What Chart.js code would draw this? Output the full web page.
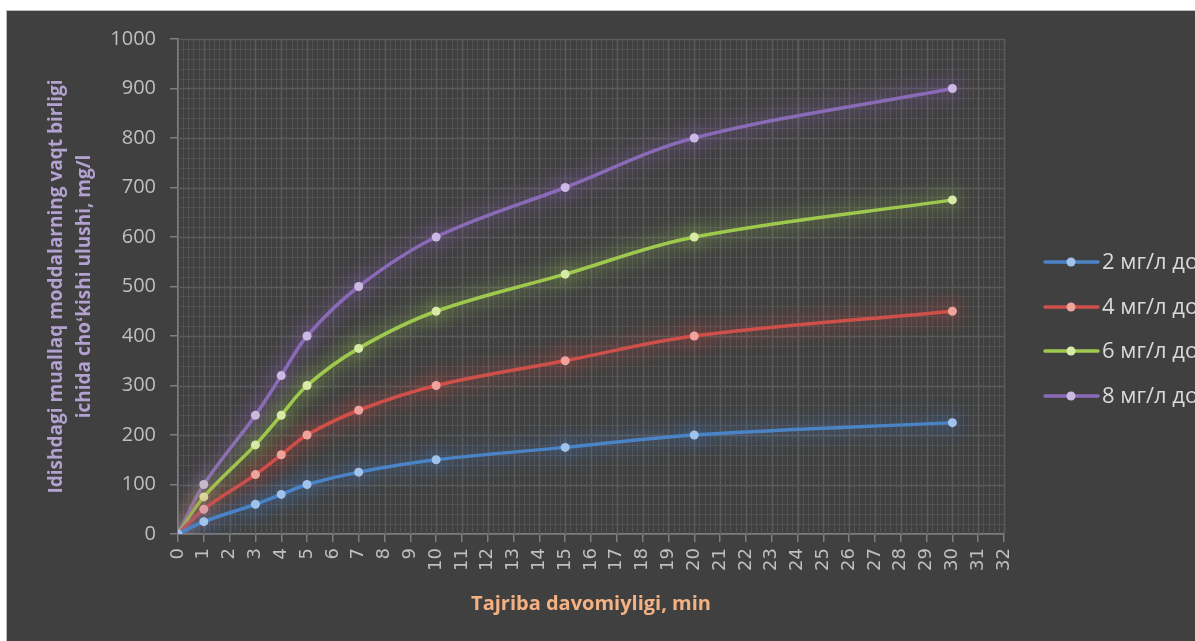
<!DOCTYPE html>
<html>
<head>
<meta charset="utf-8">
<script src="https://cdn.jsdelivr.net/npm/chart.js@4.4.1/dist/chart.umd.min.js"></script>
<style>
  html, body { margin: 0; padding: 0; background: #ffffff; overflow: hidden; width: 1195px; height: 641px; }
  #panel { position: absolute; left: 6px; top: 10px; width: 1189px; height: 631px; background: #404040; border-top: 1px solid #bdbdbd; border-left: 1px solid #bdbdbd; box-sizing: border-box; }
  #chart { position: absolute; left: 6px; top: 10px; }
</style>
</head>
<body>
<div id="panel"></div>
<canvas id="chart" width="1189" height="631"></canvas>
<script>
// Settling time, minutes
const minutes = [0, 1, 3, 4, 5, 7, 10, 15, 20, 30];

// Settled share per time unit, mg/l, for each dose
const dose2 = [0, 25, 60, 80, 100, 125, 150, 175, 200, 225];
const dose4 = [0, 50, 120, 160, 200, 250, 300, 350, 400, 450];
const dose6 = [0, 75, 180, 240, 300, 375, 450, 525, 600, 675];
const dose8 = [0, 100, 240, 320, 400, 500, 600, 700, 800, 900];

const seriesNames = ['2 мг/л доза', '4 мг/л доза', '6 мг/л доза', '8 мг/л доза'];

// Axis ranges and tick steps
const xTicks = { min: 0, max: 32, step: 1 };
const yTicks = { min: 0, max: 1000, step: 100 };

const styles = [
  { line: '#4a84c6', point: '#9fc3ea', glow: 'rgba(70,140,235,0.95)' },
  { line: '#cf504b', point: '#f0a39b', glow: 'rgba(235,70,60,0.95)' },
  { line: '#9fc94e', point: '#d8eaa6', glow: 'rgba(170,225,80,0.95)' },
  { line: '#8a6bb8', point: '#cbb9e3', glow: 'rgba(155,100,215,0.95)' }
];

const allSeries = [dose2, dose4, dose6, dose8];

const datasets = allSeries.map((vals, i) => ({
  label: seriesNames[i],
  data: minutes.map((m, k) => ({ x: m, y: vals[k] })),
  borderColor: styles[i].line,
  backgroundColor: styles[i].point,
  pointBackgroundColor: styles[i].point,
  pointBorderColor: styles[i].point,
  pointRadius: 4.5,
  pointBorderWidth: 0,
  borderWidth: 3.5,
  tension: 0.35,
  cubicInterpolationMode: 'default',
  fill: false,
  glow: styles[i].glow
}));

// Soft coloured glow under each series
const glowPlugin = {
  id: 'glow',
  beforeDatasetDraw(chart, args) {
    const ds = chart.data.datasets[args.index];
    chart.ctx.save();
    chart.ctx.shadowColor = ds.glow;
    chart.ctx.shadowBlur = 20;
  },
  afterDatasetDraw(chart) {
    chart.ctx.restore();
  }
};

// Minor grid, major grid and plot border
const gridPlugin = {
  id: 'minorGrid',
  beforeDatasetsDraw(chart) {
    const { ctx, chartArea: a, scales: { x, y } } = chart;
    ctx.save();
    ctx.lineWidth = 1;
    ctx.strokeStyle = 'rgba(95,95,95,0.55)';
    ctx.beginPath();
    for (let v = xTicks.min; v < xTicks.max; v += 0.2) {
      const px = Math.round(x.getPixelForValue(v)) + 0.5;
      ctx.moveTo(px, a.top); ctx.lineTo(px, a.bottom);
    }
    for (let v = yTicks.min; v < yTicks.max; v += 20) {
      const py = Math.round(y.getPixelForValue(v)) + 0.5;
      ctx.moveTo(a.left, py); ctx.lineTo(a.right, py);
    }
    ctx.stroke();
    ctx.strokeStyle = '#5b5b5b';
    ctx.lineWidth = 1.5;
    ctx.beginPath();
    for (let v = xTicks.min + 1; v <= xTicks.max; v += xTicks.step) {
      const px = Math.round(x.getPixelForValue(v)) + 0.5;
      ctx.moveTo(px, a.top); ctx.lineTo(px, a.bottom);
    }
    for (let v = yTicks.min + yTicks.step; v <= yTicks.max; v += yTicks.step) {
      const py = Math.round(y.getPixelForValue(v)) + 0.5;
      ctx.moveTo(a.left, py); ctx.lineTo(a.right, py);
    }
    ctx.stroke();
    ctx.restore();
  }
};

// Legend on the right, running off the edge
const sideLegend = {
  id: 'sideLegend',
  afterDraw(chart) {
    const ctx = chart.ctx;
    ctx.save();
    const rows = [252, 297, 341, 386];
    chart.data.datasets.forEach((ds, i) => {
      const yy = rows[i];
      ctx.strokeStyle = ds.borderColor;
      ctx.lineWidth = 3.5;
      ctx.lineCap = 'round';
      ctx.beginPath();
      ctx.moveTo(1039, yy); ctx.lineTo(1092, yy);
      ctx.stroke();
      ctx.fillStyle = ds.pointBackgroundColor;
      ctx.beginPath();
      ctx.arc(1065, yy, 4.5, 0, Math.PI * 2);
      ctx.fill();
      ctx.fillStyle = '#d9d9d9';
      ctx.font = '22px "Open Sans", sans-serif';
      ctx.textBaseline = 'middle';
      ctx.textAlign = 'left';
      ctx.fillText(ds.label, 1096, yy + 1);
    });
    ctx.restore();
  }
};

new Chart(document.getElementById('chart'), {
  type: 'line',
  data: { datasets },
  plugins: [gridPlugin, glowPlugin, sideLegend],
  options: {
    responsive: false,
    animation: false,
    layout: { padding: { top: 29, right: 191, bottom: 25, left: 0 } },
    plugins: { legend: { display: false }, tooltip: { enabled: false } },
    scales: {
      x: {
        type: 'linear',
        min: xTicks.min,
        max: xTicks.max,
        afterFit(s) { s.height = 82; },
        ticks: {
          stepSize: xTicks.step,
          autoSkip: false,
          maxRotation: 90,
          minRotation: 90,
          color: '#bfbfbf',
          padding: 6,
          font: { family: '"DejaVu Sans", sans-serif', size: 18 },
          callback: (v) => String(v)
        },
        grid: {
          drawOnChartArea: false,
          drawTicks: true,
          tickLength: 8,
          color: '#7f7f7f',
          lineWidth: 1.5
        },
        border: { color: '#7f7f7f', width: 2 },
        title: {
          display: true,
          text: 'Tajriba davomiyligi, min',
          color: '#f4b183',
          font: { family: '"Open Sans", sans-serif', size: 20, weight: 'bold' },
          padding: { top: 0, bottom: 0 }
        }
      },
      y: {
        min: yTicks.min,
        max: yTicks.max,
        afterFit(s) { s.width = 172; },
        ticks: {
          stepSize: yTicks.step,
          color: '#bfbfbf',
          padding: 14,
          font: { family: '"Open Sans", sans-serif', size: 20 },
          callback: (v) => String(v)
        },
        grid: {
          drawOnChartArea: false,
          drawTicks: true,
          tickLength: 8,
          color: '#7f7f7f',
          lineWidth: 1.5
        },
        border: { color: '#7f7f7f', width: 2 },
        title: {
          display: true,
          text: ['Idishdagi muallaq moddalarning vaqt birligi', 'ichida cho\u02bbkishi ulushi, mg/l'],
          color: '#b3a2d0',
          font: { family: '"Open Sans", sans-serif', size: 19, weight: 'bold', lineHeight: 1.45 },
          padding: { top: 37, bottom: 0 }
        }
      }
    }
  }
});
</script>
</body>
</html>
